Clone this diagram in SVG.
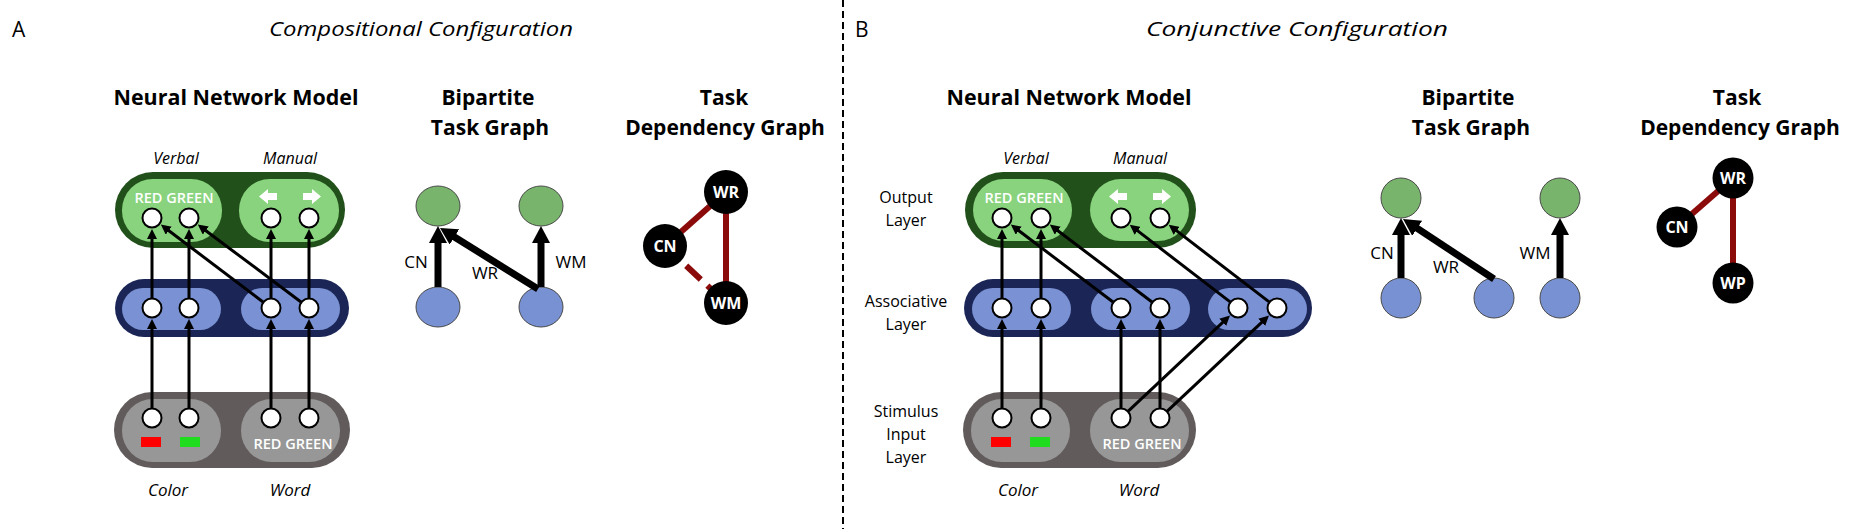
<svg xmlns="http://www.w3.org/2000/svg" width="1858" height="529" viewBox="0 0 1858 529">
<style>
text{font-family:"Open Sans","Liberation Sans",sans-serif;fill:#000}
.hd{font-size:20.5px;font-style:italic}
.lt{font-size:21px}
.ti{font-size:21px;font-weight:bold;text-anchor:middle}
.sub{font-size:16px;font-style:italic;text-anchor:middle}
.lay{font-size:16px;text-anchor:middle}
.wt{font-size:14.5px;font-weight:600;fill:#fff;text-anchor:middle}
.el{font-size:17px;text-anchor:middle}
.dl{font-size:16px;font-weight:bold;fill:#fff;text-anchor:middle}
.gO{fill:#22501b}.gI{fill:#89d37e}
.bO{fill:#1b2656}.bI{fill:#7a92d4}
.sO{fill:#625b5b}.sI{fill:#979797}
.unit{fill:#fff;stroke:#000;stroke-width:2}
.wa{fill:#fff}
.conn{stroke:#000;stroke-width:3;fill:none;marker-end:url(#ah)}
.bconn{stroke:#000;stroke-width:7;fill:none;marker-end:url(#bh)}
.tg{fill:#78b46c;stroke:#4a4a4a;stroke-width:1}
.tb{fill:#7891d2;stroke:#4a4a4a;stroke-width:1}
.dep{stroke:#8b0a0a;stroke-width:6;fill:none}
.dn{fill:#000}
</style>
<defs>
<marker id="ah" viewBox="0 0 10 10" refX="4" refY="5" markerWidth="10" markerHeight="10" markerUnits="userSpaceOnUse" orient="auto"><path d="M0,0 L10,5 L0,10 z" fill="#000"/></marker>
<marker id="bh" viewBox="0 0 17 18" refX="9" refY="9" markerWidth="17" markerHeight="18" markerUnits="userSpaceOnUse" orient="auto"><path d="M0,0 L17,9 L0,18 z" fill="#000"/></marker>
</defs>
<rect width="1858" height="529" fill="#fff"/>

<g id="headers">
<text class="lt" x="12" y="37">A</text>
<text class="hd" x="269" y="36" textLength="304" lengthAdjust="spacingAndGlyphs">Compositional Configuration</text>
<text class="lt" x="855" y="37">B</text>
<text class="hd" x="1146" y="36" textLength="302" lengthAdjust="spacingAndGlyphs">Conjunctive Configuration</text>
<line x1="843" y1="0" x2="843" y2="529" stroke="#000" stroke-width="2" stroke-dasharray="7 4"/>
</g>

<g id="section-titles">
<text class="ti" x="236" y="105" textLength="245" lengthAdjust="spacingAndGlyphs">Neural Network Model</text>
<text class="ti" x="488" y="105">Bipartite</text>
<text class="ti" x="490" y="135">Task Graph</text>
<text class="ti" x="724" y="105">Task</text>
<text class="ti" x="725" y="135">Dependency Graph</text>
<text class="ti" x="1069" y="105" textLength="245" lengthAdjust="spacingAndGlyphs">Neural Network Model</text>
<text class="ti" x="1468" y="105">Bipartite</text>
<text class="ti" x="1471" y="135">Task Graph</text>
<text class="ti" x="1737" y="105">Task</text>
<text class="ti" x="1740" y="135">Dependency Graph</text>
</g>

<!-- Panel A neural network -->
<g id="a-output-layer">
<text class="sub" x="176" y="164">Verbal</text>
<text class="sub" x="290" y="164">Manual</text>
<rect class="gO" x="115" y="172" width="230" height="76" rx="38"/>
<rect class="gI" x="122" y="179" width="100" height="63" rx="31"/>
<rect class="gI" x="239" y="179" width="100" height="63" rx="31"/>
<text class="wt" x="174" y="203">RED GREEN</text>
<polygon class="wa" points="259,196.5 268,189 268,193 277,193 277,200 268,200 268,204"/>
<polygon class="wa" points="321,196.5 312,189 312,193 303,193 303,200 312,200 312,204"/>
<circle class="unit" cx="152" cy="218" r="9.5"/>
<circle class="unit" cx="189" cy="218" r="9.5"/>
<circle class="unit" cx="271" cy="218" r="9.5"/>
<circle class="unit" cx="309" cy="218" r="9.5"/>
</g>
<g id="a-associative-layer">
<rect class="bO" x="115" y="279" width="234" height="58" rx="29"/>
<rect class="bI" x="122" y="288" width="99" height="42" rx="21"/>
<rect class="bI" x="241" y="288" width="99" height="42" rx="21"/>
<circle class="unit" cx="152" cy="308" r="9.5"/>
<circle class="unit" cx="189" cy="308" r="9.5"/>
<circle class="unit" cx="271" cy="308" r="9.5"/>
<circle class="unit" cx="309" cy="308" r="9.5"/>
</g>
<g id="a-input-layer">
<rect class="sO" x="114" y="392" width="236" height="76" rx="38"/>
<rect class="sI" x="122" y="399" width="99" height="63" rx="31"/>
<rect class="sI" x="241" y="399" width="99" height="63" rx="31"/>
<rect x="141" y="437" width="20" height="10" fill="#ff0000"/>
<rect x="180" y="437" width="20" height="10" fill="#1fdc1f"/>
<text class="wt" x="293" y="449">RED GREEN</text>
<circle class="unit" cx="152" cy="418" r="9.5"/>
<circle class="unit" cx="189" cy="418" r="9.5"/>
<circle class="unit" cx="271" cy="418" r="9.5"/>
<circle class="unit" cx="309" cy="418" r="9.5"/>
<text class="sub" x="168" y="496" style="font-size:17px">Color</text>
<text class="sub" x="290" y="496" style="font-size:17px">Word</text>
</g>

<!-- Panel A bipartite -->
<g id="a-bip-out1"><ellipse class="tg" cx="438" cy="206" rx="22" ry="20"/></g>
<g id="a-bip-out2"><ellipse class="tg" cx="541" cy="206" rx="22" ry="20"/></g>
<g id="a-bip-in1"><ellipse class="tb" cx="438" cy="307" rx="22" ry="20"/></g>
<g id="a-bip-in2"><ellipse class="tb" cx="541" cy="307" rx="22" ry="20"/></g>

<!-- Panel A dependency -->
<g id="a-dep-edges">
<line class="dep" x1="726" y1="192" x2="665" y2="246"/>
<line class="dep" x1="726" y1="192" x2="726" y2="303"/>
<line class="dep" x1="665" y1="246" x2="726" y2="303" stroke-dasharray="20 9"/>
</g>
<g id="a-dep-wr"><circle class="dn" cx="726" cy="192" r="22"/><text class="dl" x="726" y="197.5">WR</text></g>
<g id="a-dep-cn"><circle class="dn" cx="665" cy="246" r="22"/><text class="dl" x="665" y="251.5">CN</text></g>
<g id="a-dep-wm"><circle class="dn" cx="726" cy="303" r="22"/><text class="dl" x="726" y="308.5">WM</text></g>

<!-- Panel B neural network -->
<g id="b-layer-labels">
<text class="lay" x="906" y="203">Output</text>
<text class="lay" x="906" y="226">Layer</text>
<text class="lay" x="906" y="307">Associative</text>
<text class="lay" x="906" y="330">Layer</text>
<text class="lay" x="906" y="417">Stimulus</text>
<text class="lay" x="906" y="440">Input</text>
<text class="lay" x="906" y="463">Layer</text>
</g>
<g id="b-output-layer">
<text class="sub" x="1026" y="164">Verbal</text>
<text class="sub" x="1140" y="164">Manual</text>
<rect class="gO" x="965" y="172" width="231" height="76" rx="38"/>
<rect class="gI" x="973" y="179" width="99" height="62" rx="31"/>
<rect class="gI" x="1090" y="179" width="99" height="62" rx="31"/>
<text class="wt" x="1024" y="203">RED GREEN</text>
<polygon class="wa" points="1109,196.5 1118,189 1118,193 1127,193 1127,200 1118,200 1118,204"/>
<polygon class="wa" points="1171,196.5 1162,189 1162,193 1153,193 1153,200 1162,200 1162,204"/>
<circle class="unit" cx="1002" cy="218" r="9.5"/>
<circle class="unit" cx="1041" cy="218" r="9.5"/>
<circle class="unit" cx="1121" cy="218" r="9.5"/>
<circle class="unit" cx="1160" cy="218" r="9.5"/>
</g>
<g id="b-associative-layer">
<rect class="bO" x="964" y="279" width="348" height="58" rx="29"/>
<rect class="bI" x="972" y="288" width="99" height="42" rx="21"/>
<rect class="bI" x="1091" y="288" width="99" height="42" rx="21"/>
<rect class="bI" x="1208" y="288" width="99" height="42" rx="21"/>
<circle class="unit" cx="1002" cy="308" r="9.5"/>
<circle class="unit" cx="1041" cy="308" r="9.5"/>
<circle class="unit" cx="1121" cy="308" r="9.5"/>
<circle class="unit" cx="1160" cy="308" r="9.5"/>
<circle class="unit" cx="1238" cy="308" r="9.5"/>
<circle class="unit" cx="1277" cy="308" r="9.5"/>
</g>
<g id="b-input-layer">
<rect class="sO" x="963" y="392" width="233" height="76" rx="38"/>
<rect class="sI" x="971" y="399" width="99" height="63" rx="31"/>
<rect class="sI" x="1090" y="399" width="99" height="63" rx="31"/>
<rect x="991" y="437" width="20" height="10" fill="#ff0000"/>
<rect x="1030" y="437" width="20" height="10" fill="#1fdc1f"/>
<text class="wt" x="1142" y="449">RED GREEN</text>
<circle class="unit" cx="1002" cy="418" r="9.5"/>
<circle class="unit" cx="1041" cy="418" r="9.5"/>
<circle class="unit" cx="1121" cy="418" r="9.5"/>
<circle class="unit" cx="1160" cy="418" r="9.5"/>
<text class="sub" x="1018" y="496" style="font-size:17px">Color</text>
<text class="sub" x="1139" y="496" style="font-size:17px">Word</text>
</g>

<!-- Panel B bipartite -->
<g id="b-bip-out1"><circle class="tg" cx="1401" cy="198" r="20"/></g>
<g id="b-bip-out2"><circle class="tg" cx="1560" cy="198" r="20"/></g>
<g id="b-bip-in1"><circle class="tb" cx="1401" cy="298" r="20"/></g>
<g id="b-bip-in2"><circle class="tb" cx="1494" cy="298" r="20"/></g>
<g id="b-bip-in3"><circle class="tb" cx="1560" cy="298" r="20"/></g>

<!-- Panel B dependency -->
<g id="b-dep-edges">
<line class="dep" x1="1733" y1="178" x2="1677" y2="227"/>
<line class="dep" x1="1733" y1="178" x2="1733" y2="283"/>
</g>
<g id="b-dep-wr"><circle class="dn" cx="1733" cy="178" r="20.5"/><text class="dl" x="1733" y="183.5">WR</text></g>
<g id="b-dep-cn"><circle class="dn" cx="1677" cy="227" r="20.5"/><text class="dl" x="1677" y="232.5">CN</text></g>
<g id="b-dep-wp"><circle class="dn" cx="1733" cy="283" r="20.5"/><text class="dl" x="1733" y="288.5">WP</text></g>

<g id="connectors">
<!-- A: input to associative -->
<line class="conn" x1="152" y1="408" x2="152" y2="325"/>
<line class="conn" x1="189" y1="408" x2="189" y2="325"/>
<line class="conn" x1="271" y1="408" x2="271" y2="325"/>
<line class="conn" x1="309" y1="408" x2="309" y2="325"/>
<!-- A: associative to output -->
<line class="conn" x1="152" y1="298" x2="152" y2="235"/>
<line class="conn" x1="189" y1="298" x2="189" y2="235"/>
<line class="conn" x1="271" y1="298" x2="271" y2="235"/>
<line class="conn" x1="309" y1="298" x2="309" y2="235"/>
<line class="conn" x1="263" y1="302" x2="165.6" y2="228.2"/>
<line class="conn" x1="301" y1="302" x2="202.6" y2="228.2"/>
<!-- A bipartite -->
<line class="bconn" x1="438" y1="287" x2="438" y2="234"/>
<line class="bconn" x1="541" y1="287" x2="541" y2="234"/>
<line class="bconn" x1="538" y1="289" x2="446.8" y2="232.2"/>
<!-- B: input to associative -->
<line class="conn" x1="1002" y1="408" x2="1002" y2="325"/>
<line class="conn" x1="1041" y1="408" x2="1041" y2="325"/>
<line class="conn" x1="1121" y1="408" x2="1121" y2="325"/>
<line class="conn" x1="1160" y1="408" x2="1160" y2="325"/>
<line class="conn" x1="1128.3" y1="411.1" x2="1225.6" y2="319.6"/>
<line class="conn" x1="1167.3" y1="411.1" x2="1264.6" y2="319.6"/>
<!-- B: associative to output -->
<line class="conn" x1="1002" y1="298" x2="1002" y2="235"/>
<line class="conn" x1="1041" y1="298" x2="1041" y2="235"/>
<line class="conn" x1="1113" y1="302" x2="1015.6" y2="228.2"/>
<line class="conn" x1="1152" y1="302" x2="1054.6" y2="228.2"/>
<line class="conn" x1="1230.1" y1="301.9" x2="1134.5" y2="228.4"/>
<line class="conn" x1="1269.1" y1="301.9" x2="1173.5" y2="228.4"/>
<!-- B bipartite -->
<line class="bconn" x1="1401" y1="278" x2="1401" y2="226"/>
<line class="bconn" x1="1560" y1="278" x2="1560" y2="226"/>
<line class="bconn" x1="1494" y1="279" x2="1409.7" y2="223.4"/>
</g>

<g id="edge-labels">
<text class="el" x="416" y="268">CN</text>
<text class="el" x="485" y="279">WR</text>
<text class="el" x="571" y="268">WM</text>
<text class="el" x="1382" y="259">CN</text>
<text class="el" x="1446" y="273">WR</text>
<text class="el" x="1535" y="259">WM</text>
</g>
</svg>
